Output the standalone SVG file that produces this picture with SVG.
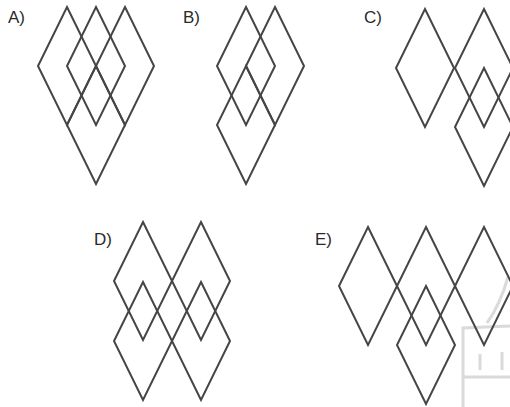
<svg xmlns="http://www.w3.org/2000/svg" xmlns:xlink="http://www.w3.org/1999/xlink" width="510" height="407" viewBox="0 0 510 407">
<style>
.d{fill:none;stroke:#454545;stroke-width:2;stroke-linejoin:miter}
.l{font-family:"Liberation Sans",Arial,sans-serif;font-size:17px;fill:#2a2a2a}
.w{fill:none;stroke:#dadada;stroke-width:3}
</style>
<defs>
<path id="dm" d="M0,-59 L29,0 L0,59 L-29,0 Z"/>
</defs>
<rect width="510" height="407" fill="#ffffff"/>
<g id="watermark">
<path class="w" d="M508,277 Q500,305 487,323"/>
<path class="w" d="M463,407 L463,328 L510,326"/>
<path class="w" d="M463,377 L510,377"/>
<path class="w" d="M480,354 L480,370 M502,352 L502,370"/>
</g>
<g id="A">
<text class="l" x="8" y="23">A)</text>
<use class="d" href="#dm" x="67" y="66"/>
<use class="d" href="#dm" x="96" y="66"/>
<use class="d" href="#dm" x="125" y="66"/>
<use class="d" href="#dm" x="96" y="125"/>
</g>
<g id="B">
<text class="l" x="183" y="23">B)</text>
<use class="d" href="#dm" x="246" y="66"/>
<use class="d" href="#dm" x="275" y="66"/>
<use class="d" href="#dm" x="246" y="125"/>
</g>
<g id="C">
<text class="l" x="364" y="23">C)</text>
<use class="d" href="#dm" x="425" y="68"/>
<use class="d" href="#dm" x="484" y="68"/>
<use class="d" href="#dm" x="484" y="127"/>
</g>
<g id="D">
<text class="l" x="94" y="245">D)</text>
<use class="d" href="#dm" x="143" y="281"/>
<use class="d" href="#dm" x="201" y="281"/>
<use class="d" href="#dm" x="143" y="341"/>
<use class="d" href="#dm" x="201" y="341"/>
</g>
<g id="E">
<text class="l" x="315" y="245">E)</text>
<use class="d" href="#dm" x="368" y="286"/>
<use class="d" href="#dm" x="426" y="286"/>
<use class="d" href="#dm" x="484" y="286"/>
<use class="d" href="#dm" x="426" y="345"/>
</g>
<g id="connectors"/>
</svg>
